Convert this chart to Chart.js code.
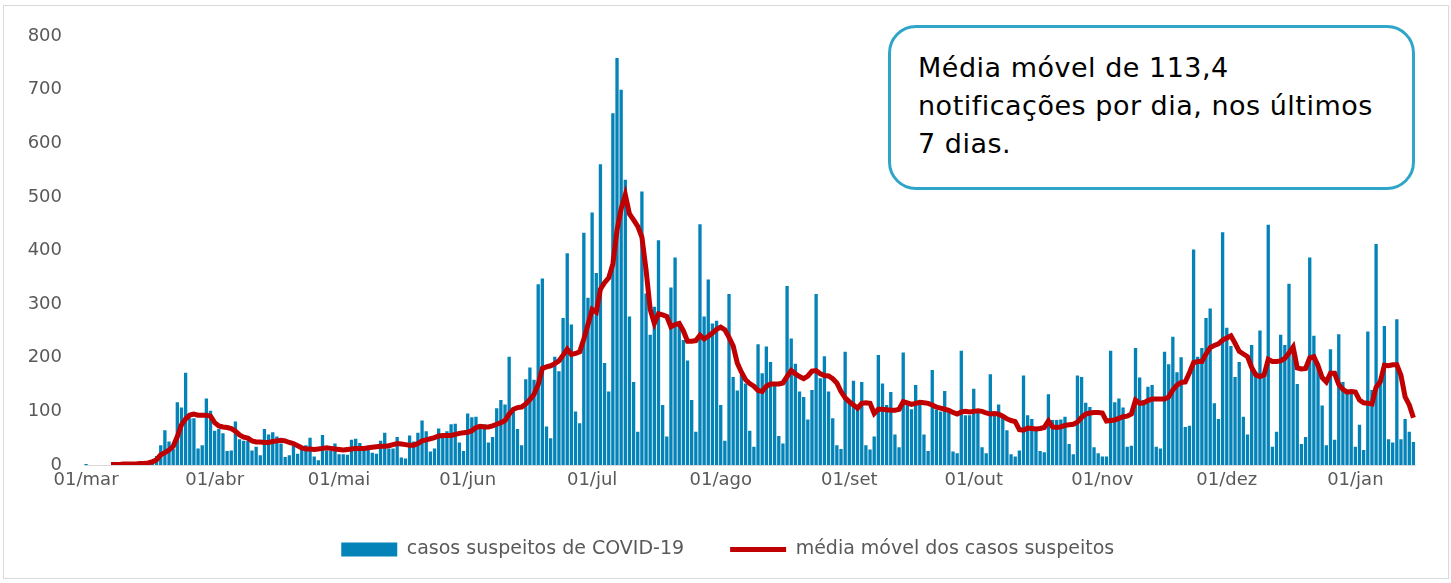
<!DOCTYPE html>
<html lang="pt-BR">
<head>
<meta charset="utf-8">
<title>Casos suspeitos de COVID-19</title>
<script src="https://cdn.jsdelivr.net/npm/chart.js@4/dist/chart.umd.min.js"></script>
<style>
  html, body { margin: 0; padding: 0; background: #fff; }
  #wrap { position: relative; width: 1451px; height: 583px; }
  #frame { position: absolute; left: 3px; top: 5px; width: 1444px; height: 572px; border: 1px solid #d9d9d9; pointer-events: none; }
  #nota {
    position: absolute; left: 888px; top: 25px; width: 527px; height: 165px;
    box-sizing: border-box; border: 3px solid #2fa5c8; border-radius: 28px; background: #fff;
    padding: 21px 0 0 27px; font: 27px/38px "DejaVu Sans", sans-serif; letter-spacing: 0.5px; color: #000;
  }
</style>
</head>
<body>
<div id="wrap">
  <canvas id="grafico" width="1451" height="583"></canvas>
  <div id="frame"></div>
  <div id="nota">Média móvel de 113,4<br>notificações por dia, nos últimos<br>7 dias.</div>
</div>
<script>
// meses do eixo (mar -> jan) e quantos dias de cada aparecem
const meses = ['mar', 'abr', 'mai', 'jun', 'jul', 'ago', 'set', 'out', 'nov', 'dez', 'jan'];
const diasNoMes = [31, 30, 31, 30, 31, 31, 30, 31, 30, 31, 15];

// casos suspeitos por dia, um array por mes
const suspeitosMar = [2, 0, 0, 0, 0, 0, 0, 0, 0, 0, 0, 0, 1, 2, 3, 5, 8, 17, 37, 65, 44, 30, 117, 107, 172, 87, 87, 31, 37, 124, 101];
const suspeitosAbr = [64, 67, 59, 26, 27, 81, 48, 45, 45, 27, 34, 18, 67, 57, 61, 53, 40, 15, 18, 36, 21, 28, 37, 51, 16, 9, 56, 27, 27, 40];
const suspeitosMai = [20, 20, 19, 47, 49, 41, 28, 35, 23, 21, 45, 60, 31, 31, 52, 14, 12, 55, 44, 60, 83, 63, 25, 31, 68, 53, 63, 76, 77, 42, 26];
const suspeitosJun = [96, 89, 90, 76, 76, 42, 52, 106, 121, 113, 202, 104, 67, 37, 160, 182, 159, 337, 348, 72, 50, 202, 175, 274, 395, 262, 100, 78, 433, 312];
const suspeitosJul = [471, 358, 561, 190, 137, 656, 759, 700, 532, 277, 155, 62, 510, 320, 243, 295, 419, 112, 53, 331, 387, 267, 233, 195, 121, 62, 449, 277, 346, 264, 269];
const suspeitosAgo = [112, 45, 319, 164, 139, 168, 152, 64, 34, 225, 171, 221, 192, 155, 54, 40, 334, 236, 189, 137, 127, 85, 140, 319, 162, 203, 137, 87, 37, 30, 211];
const suspeitosSet = [115, 157, 108, 155, 37, 29, 53, 205, 152, 112, 136, 57, 33, 210, 112, 104, 149, 112, 57, 26, 177, 103, 100, 138, 100, 25, 22, 213, 93, 93];
const suspeitosOut = [142, 97, 33, 22, 169, 100, 113, 91, 65, 20, 16, 27, 167, 93, 86, 65, 26, 24, 132, 84, 84, 85, 90, 39, 20, 167, 164, 116, 108, 33, 22];
const suspeitosNov = [16, 16, 213, 117, 124, 107, 34, 36, 218, 163, 121, 146, 149, 34, 31, 211, 188, 239, 173, 201, 71, 73, 402, 202, 218, 274, 292, 115, 86, 434];
const suspeitosDez = [256, 222, 164, 192, 90, 57, 224, 174, 251, 165, 448, 34, 62, 243, 224, 338, 221, 151, 39, 52, 387, 241, 190, 111, 37, 216, 47, 244, 155, 134, 140];
const suspeitosJan = [34, 75, 28, 249, 140, 412, 152, 259, 48, 42, 272, 48, 86, 62, 43];

const mediaMar = [null, null, null, null, null, null, 1, 1, 1, 2, 2, 2, 2, 3, 3, 4, 6, 10, 19, 23, 28, 35, 53, 75, 86, 93, 95, 93, 93, 93, 91];
const mediaAbr = [79, 73, 71, 70, 68, 63, 56, 52, 50, 45, 43, 43, 42, 42, 44, 45, 46, 45, 42, 40, 36, 32, 30, 30, 29, 30, 31, 32, 31, 30];
const mediaMai = [29, 28, 29, 30, 31, 31, 31, 32, 33, 34, 35, 35, 36, 38, 40, 39, 38, 37, 37, 40, 45, 47, 49, 51, 54, 55, 55, 55, 57, 59, 60];
const mediaJun = [61, 64, 70, 72, 71, 71, 73, 76, 79, 83, 95, 104, 107, 108, 114, 122, 132, 150, 180, 183, 185, 189, 194, 205, 216, 206, 208, 211, 235, 262];
const mediaJul = [290, 285, 328, 340, 349, 375, 438, 478, 504, 468, 457, 445, 425, 364, 290, 264, 282, 280, 277, 258, 262, 264, 250, 231, 231, 232, 242, 235, 240, 246, 253];
const mediaAgo = [257, 252, 238, 222, 190, 173, 159, 152, 147, 139, 137, 147, 151, 151, 151, 153, 165, 176, 170, 165, 161, 166, 175, 176, 170, 167, 166, 161, 153, 137, 125];
const mediaSet = [118, 112, 106, 115, 116, 115, 96, 104, 104, 103, 102, 102, 104, 118, 116, 113, 115, 117, 116, 115, 112, 108, 106, 104, 102, 98, 95, 99, 100, 99];
const mediaOut = [100, 101, 100, 97, 95, 96, 95, 91, 86, 83, 81, 66, 65, 69, 68, 67, 68, 70, 82, 71, 70, 71, 74, 75, 76, 80, 89, 95, 97, 98, 98];
const mediaNov = [97, 82, 83, 84, 87, 90, 91, 95, 121, 115, 116, 120, 123, 123, 123, 123, 127, 140, 149, 154, 155, 172, 191, 193, 193, 207, 219, 223, 226, 233];
const mediaDez = [237, 241, 227, 212, 207, 202, 182, 168, 165, 168, 197, 193, 193, 194, 199, 209, 220, 181, 179, 180, 200, 202, 185, 163, 155, 171, 171, 150, 141, 136, 137];
const mediaJan = [136, 121, 116, 115, 114, 145, 155, 186, 185, 187, 187, 167, 127, 112, 88];

const yMin = 0;
const yMax = 800;
const yStep = 100;

const suspeitos = [].concat(suspeitosMar, suspeitosAbr, suspeitosMai, suspeitosJun, suspeitosJul, suspeitosAgo,
    suspeitosSet, suspeitosOut, suspeitosNov, suspeitosDez, suspeitosJan);
const media = [].concat(mediaMar, mediaAbr, mediaMai, mediaJun, mediaJul, mediaAgo,
    mediaSet, mediaOut, mediaNov, mediaDez, mediaJan);

const labels = [];
meses.forEach((mes, i) => {
    for (let d = 1; d <= diasNoMes[i]; d++) {
        labels.push(String(d).padStart(2, '0') + '/' + mes);
    }
});

const fonte = '"DejaVu Sans", sans-serif';
const corTexto = '#595959';
const corBarra = '#0383B8';
const corLinha = '#C00000';

// a legenda do original fica um pouco a direita do centro
const legendaDeslocada = {
    id: 'legendaDeslocada',
    afterLayout(chart) {
        chart.legend.left += 15;
        chart.legend.right += 15;
    }
};

new Chart(document.getElementById('grafico'), {
    data: {
        labels: labels,
        datasets: [
            {
                type: 'bar',
                label: 'casos suspeitos de COVID-19',
                data: suspeitos,
                backgroundColor: corBarra,
                barPercentage: 0.8,
                categoryPercentage: 1,
                order: 2
            },
            {
                type: 'line',
                label: 'média móvel dos casos suspeitos',
                data: media,
                borderColor: corLinha,
                backgroundColor: corLinha,
                borderWidth: 5,
                pointRadius: 0,
                tension: 0,
                order: 1
            }
        ]
    },
    plugins: [legendaDeslocada],
    options: {
        responsive: false,
        devicePixelRatio: 1,
        animation: false,
        layout: { padding: { left: 10, right: 35.5, top: 36, bottom: 14 } },
        plugins: {
            tooltip: { enabled: false },
            legend: {
                position: 'bottom',
                labels: {
                    usePointStyle: true,
                    pointStyleWidth: 56,
                    boxHeight: 14,
                    padding: 46,
                    color: corTexto,
                    font: { family: fonte, size: 19 },
                    generateLabels: chart => chart.data.datasets.map((ds, i) => ({
                        text: ds.label,
                        fillStyle: ds.type === 'bar' ? ds.backgroundColor : 'transparent',
                        strokeStyle: ds.type === 'bar' ? ds.backgroundColor : ds.borderColor,
                        lineWidth: ds.type === 'bar' ? 0 : 5,
                        pointStyle: ds.type === 'bar' ? 'rect' : 'line',
                        fontColor: corTexto,
                        datasetIndex: i
                    }))
                }
            }
        },
        scales: {
            x: {
                offset: true,
                grid: { display: false, drawTicks: false },
                border: { display: true, color: '#D9D9D9', width: 1 },
                ticks: {
                    autoSkip: false,
                    maxRotation: 0,
                    minRotation: 0,
                    padding: 5,
                    color: corTexto,
                    font: { family: fonte, size: 18 },
                    callback: function (value) {
                        const l = this.getLabelForValue(value);
                        return l.startsWith('01/') ? l : '';
                    }
                },
                afterFit: scale => { scale.height = 29; }
            },
            y: {
                min: yMin,
                max: yMax,
                grid: { display: false, drawTicks: false },
                border: { display: false },
                ticks: {
                    stepSize: yStep,
                    padding: 22,
                    color: corTexto,
                    font: { family: fonte, size: 18 }
                },
                afterFit: scale => { scale.width = 74; }
            }
        }
    }
});
</script>
</body>
</html>
